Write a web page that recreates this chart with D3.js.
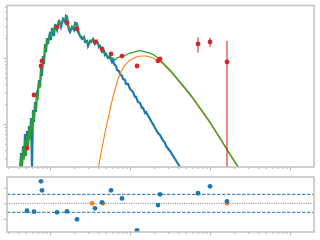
<!DOCTYPE html>
<html><head><meta charset="utf-8">
<script src="https://cdn.jsdelivr.net/npm/d3@7"></script>
<style>body{margin:0;background:#fff}svg{display:block}</style>
</head><body><div id="chart"></div>
<script>
// photometry (wavelength in micron, flux arbitrary)
const photWave = [0.516, 0.631, 0.772, 0.794, 1.223, 1.631, 2.175, 3.652, 4.467, 5.788, 7.943, 12.23, 22.39, 23.71, 70.79, 100, 163.1];
const photFlux = [0.0433, 0.275, 0.756, 0.901, 2.95, 3.39, 2.75, 1.75, 1.37, 1.15, 1.07, 0.756, 0.901, 0.966, 1.63, 1.75, 0.870];
const photErr  = [0, 0, 0, 0, 0, 0, 0, 0, 0, 0, 0, 0, 0, 0, 0.42, 0.27, 0.94];
const residual = [-0.48, -0.54, 1.42, 0.84, -0.58, -0.52, -1.03, -0.32, 0.06, 0.84, 0.32, -1.74, -0.11, 0.58, 0.65, 1.10, 0.13];
const limitWave = [3.35, 4.60, 163.1];
const limitResid = [0, 0, 0];

// stellar model spectrum
const starWave = [0.422, 0.434, 0.447, 0.460, 0.473, 0.487, 0.501, 0.516, 0.531, 0.546, 0.562, 0.579, 0.596, 0.613, 0.631, 0.649, 0.668, 0.688, 0.708, 0.729, 0.750, 0.772, 0.794, 0.818, 0.841, 0.866, 0.891, 0.917, 0.944, 1.0, 1.029, 1.059, 1.122, 1.155, 1.223, 1.296, 1.372, 1.454, 1.540, 1.585, 1.631, 1.679, 1.728, 1.778, 1.884, 1.995, 2.054, 2.175, 2.239, 2.371, 2.512, 2.661, 2.738, 2.900, 2.985, 3.162, 3.254, 3.449, 3.652, 3.868, 4.097, 4.217, 4.467, 4.732, 4.870, 5.012, 5.309, 5.623, 5.957, 6.131, 6.310, 6.683, 6.879, 7.286, 7.499, 7.943, 8.175, 8.660, 8.913, 9.441, 10, 10.90, 11.55, 11.89, 12.59, 13.34, 14.13, 14.54, 15.40, 15.85, 17.78, 19.95, 20.54, 22.39, 23.71, 25.12, 27.38, 28.18, 31.62, 36.52, 42.17, 48.70];
const starFlux = [0.0201, 0.0364, 0.0223, 0.0464, 0.0305, 0.0705, 0.0327, 0.0783, 0.0433, 0.0932, 0.0614, 0.123, 0.0201, 0.163, 0.107, 0.215, 0.152, 0.305, 0.327, 0.464, 0.364, 0.706, 0.534, 1.07, 0.811, 1.63, 1.23, 2.01, 1.63, 2.48, 1.87, 2.85, 2.15, 3.27, 2.66, 3.77, 2.95, 3.90, 3.51, 4.33, 4.18, 3.16, 2.66, 2.48, 2.95, 2.66, 3.39, 3.27, 2.48, 2.15, 1.94, 2.08, 1.75, 1.81, 1.52, 1.81, 1.75, 1.94, 1.63, 1.81, 1.47, 1.52, 1.23, 1.28, 1.11, 1.15, 1.0, 1.035, 0.870, 0.933, 0.811, 0.756, 0.658, 0.635, 0.572, 0.534, 0.481, 0.464, 0.404, 0.404, 0.339, 0.305, 0.257, 0.257, 0.215, 0.208, 0.175, 0.175, 0.147, 0.152, 0.119, 0.0932, 0.087, 0.0731, 0.0681, 0.0593, 0.0515, 0.0464, 0.0390, 0.0295, 0.0223, 0.0169];

// dust component
const dustWave = [3.981, 4.217, 4.467, 4.732, 5.012, 5.309, 5.623, 5.957, 6.310, 6.683, 7.079, 7.499, 8.175, 8.913, 10, 11.22, 12.59, 14.13, 15.85, 17.78, 19.95, 22.39, 25.12, 28.18, 31.62, 36.52, 42.17, 48.70, 56.23, 64.94, 74.99, 86.60, 100, 115.5, 133.4, 154.0, 177.8, 205.4, 230.4, 273.8];
const dustFlux = [0.0201, 0.0305, 0.0433, 0.0614, 0.087, 0.119, 0.163, 0.223, 0.295, 0.376, 0.481, 0.572, 0.706, 0.811, 0.933, 1.0, 1.054, 1.07, 1.07, 1.035, 0.983, 0.917, 0.840, 0.730, 0.635, 0.515, 0.418, 0.339, 0.275, 0.215, 0.169, 0.132, 0.1035, 0.0783, 0.0593, 0.0448, 0.0339, 0.0257, 0.0215, 0.0152];

// total model
const totalWave = [0.422, 0.434, 0.447, 0.460, 0.473, 0.487, 0.501, 0.516, 0.531, 0.546, 0.562, 0.579, 0.596, 0.613, 0.631, 0.649, 0.668, 0.688, 0.708, 0.729, 0.750, 0.772, 0.794, 0.818, 0.841, 0.866, 0.891, 0.917, 0.944, 1.0, 1.029, 1.059, 1.122, 1.155, 1.223, 1.296, 1.372, 1.454, 1.540, 1.585, 1.631, 1.679, 1.728, 1.778, 1.884, 1.995, 2.054, 2.175, 2.239, 2.371, 2.512, 2.661, 2.738, 2.900, 2.985, 3.162, 3.254, 3.449, 3.652, 3.868, 4.097, 4.217, 4.467, 4.732, 5.012, 5.309, 5.623, 5.957, 6.310, 6.494, 6.879, 7.286, 8.175, 8.913, 10, 11.22, 12.59, 14.13, 15.85, 17.78, 19.95, 22.39, 25.12, 28.18, 31.62, 36.52, 42.17, 48.70, 56.23, 64.94, 74.99, 86.60, 100, 115.5, 133.4, 154.0, 177.8, 205.4, 230.4, 273.8];
const totalFlux = [0.0201, 0.0339, 0.0215, 0.0433, 0.0285, 0.0572, 0.0339, 0.0681, 0.0404, 0.087, 0.0572, 0.115, 0.0756, 0.152, 0.115, 0.201, 0.163, 0.285, 0.231, 0.433, 0.351, 0.658, 0.572, 1.0, 0.870, 1.52, 1.32, 1.87, 1.75, 2.31, 2.08, 2.66, 2.39, 3.16, 2.85, 3.51, 3.27, 3.77, 3.90, 4.18, 4.33, 3.51, 2.85, 2.66, 2.85, 2.95, 3.27, 3.39, 2.85, 2.23, 2.08, 2.01, 1.87, 1.75, 1.63, 1.75, 1.81, 1.87, 1.75, 1.75, 1.57, 1.47, 1.32, 1.23, 1.11, 1.07, 1.035, 1.0, 0.966, 0.933, 1.0, 1.035, 1.07, 1.11, 1.19, 1.23, 1.28, 1.28, 1.23, 1.19, 1.11, 1.0, 0.870, 0.756, 0.658, 0.534, 0.433, 0.351, 0.285, 0.223, 0.175, 0.137, 0.107, 0.0811, 0.0614, 0.0464, 0.0351, 0.0266, 0.0215, 0.0152];

const W = 320, H = 240;
const svg = d3.select('#chart').append('svg').attr('width', W).attr('height', H);

var x = d3.scaleLog().domain([0.29, 1995]).range([7, 314]);
var y = d3.scaleLog().domain([0.0223, 6.24]).range([167, 5.5]);
var yr = d3.scaleLinear().domain([-1.85, 1.70]).range([232, 177]);

var frameColor = '#c4c4c4', tickColor = '#b4b4b4';

svg.append('clipPath').attr('id', 'clipTop')
	.append('rect').attr('x', 7).attr('y', 5.5).attr('width', 307).attr('height', 161.5);
svg.append('clipPath').attr('id', 'clipBot')
	.append('rect').attr('x', 7).attr('y', 177).attr('width', 307).attr('height', 55);

// ticks
function minorLog(lo, hi){
	var out = [];
	for (var d = -2; d <= 3; d++) for (var k = 2; k <= 9; k++) {
		var v = k*Math.pow(10, d);
		if (v > lo && v < hi) out.push(v);
	}
	return out;
}
var xMajor = [1, 10, 100, 1000], xMinor = minorLog(0.29, 1995);
var yMajor = [0.1, 1], yMinor = minorLog(0.0223, 6.24);

function styleAxis(g){
	g.select('.domain').remove();
	g.selectAll('line').attr('stroke', tickColor);
}
[167, 232].forEach(function(yy){
	svg.append('g').attr('transform', 'translate(0,' + yy + ')')
		.call(d3.axisBottom(x).tickValues(xMajor).tickSize(3.5).tickFormat('')).call(styleAxis);
	svg.append('g').attr('transform', 'translate(0,' + yy + ')')
		.call(d3.axisBottom(x).tickValues(xMinor).tickSize(2).tickFormat('')).call(styleAxis);
});
svg.append('g').attr('transform', 'translate(7,0)')
	.call(d3.axisLeft(y).tickValues(yMajor).tickSize(3.5).tickFormat('')).call(styleAxis);
svg.append('g').attr('transform', 'translate(7,0)')
	.call(d3.axisLeft(y).tickValues(yMinor).tickSize(2).tickFormat('')).call(styleAxis);
svg.append('g').attr('transform', 'translate(7,0)')
	.call(d3.axisLeft(yr).tickValues([-1, 0, 1]).tickSize(3).tickFormat('')).call(styleAxis);

// top panel curves
var topG = svg.append('g').attr('clip-path', 'url(#clipTop)');
var line = d3.line().x(d => x(d[0])).y(d => y(d[1]));

topG.append('path').datum(d3.zip(starWave, starFlux))
	.attr('d', line).attr('fill', 'none').attr('stroke', '#1f77b4').attr('stroke-width', 2.2);
topG.append('path').datum(d3.zip(dustWave, dustFlux))
	.attr('d', line).attr('fill', 'none').attr('stroke', '#ff7f0e').attr('stroke-width', 1.1);
topG.append('path').datum(d3.zip(totalWave, totalFlux))
	.attr('d', line).attr('fill', 'none').attr('stroke', '#2ca02c').attr('stroke-width', 1.3);

// error bars + photometry
var phot = photWave.map((w, i) => ({w: w, f: photFlux[i], e: photErr[i], r: residual[i]}));
topG.selectAll('.err').data(phot.filter(d => d.e > 0)).enter().append('line')
	.attr('x1', d => x(d.w)).attr('x2', d => x(d.w))
	.attr('y1', d => y(d.f + d.e))
	.attr('y2', d => d.f - d.e > 0 ? y(d.f - d.e) : 170)
	.attr('stroke', '#d62728').attr('stroke-width', 1.1);
topG.selectAll('.pt').data(phot).enter().append('circle')
	.attr('cx', d => x(d.w)).attr('cy', d => y(d.f)).attr('r', 2.4)
	.attr('fill', '#d62728');

// residual panel
var botG = svg.append('g').attr('clip-path', 'url(#clipBot)');
[-0.58, 0.58].forEach(function(v){
	botG.append('line').attr('x1', 7).attr('x2', 314).attr('y1', yr(v)).attr('y2', yr(v))
		.attr('stroke', '#1f77b4').attr('stroke-width', 1).attr('stroke-dasharray', '3.5,1.5');
});
botG.append('line').attr('x1', 7).attr('x2', 314).attr('y1', yr(0)).attr('y2', yr(0))
	.attr('stroke', '#6b7f93').attr('stroke-width', 1).attr('stroke-dasharray', '1,1.3');
botG.selectAll('.lim').data(d3.zip(limitWave, limitResid)).enter().append('circle')
	.attr('cx', d => x(d[0])).attr('cy', d => yr(d[1])).attr('r', 2.4).attr('fill', '#ff7f0e');
botG.selectAll('.res').data(phot).enter().append('circle')
	.attr('cx', d => x(d.w)).attr('cy', d => yr(d.r)).attr('r', 2.4).attr('fill', '#1f77b4');

// frames
[[5.5, 167], [177, 232]].forEach(function(p){
	svg.append('rect').attr('x', 7).attr('y', p[0]).attr('width', 307).attr('height', p[1] - p[0])
		.attr('fill', 'none').attr('stroke', frameColor).attr('stroke-width', 1.6);
});
</script>
</body></html>
